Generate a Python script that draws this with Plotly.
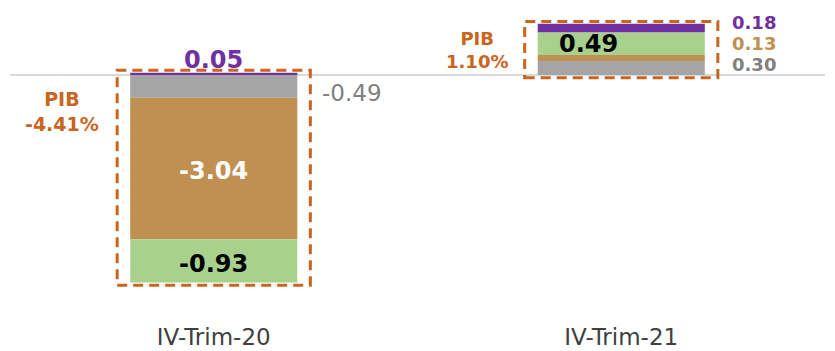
import plotly.graph_objects as go

categories = ["IV-Trim-20", "IV-Trim-21"]
gray_vals = [-0.49, 0.30]
brown_vals = [-3.04, 0.13]
green_vals = [-0.93, 0.49]
purple_vals = [0.05, 0.18]
pib_vals = [-4.41, 1.10]

C_GRAY = "#A5A5A5"
C_BROWN = "#BF9052"
C_GREEN = "#A9D18E"
C_PURPLE = "#7030A0"
C_ORANGE = "#C9651E"
FONT = "DejaVu Sans"

BAR_W = 0.41
fig = go.Figure()
for name, vals, col in [("gray", gray_vals, C_GRAY), ("brown", brown_vals, C_BROWN),
                        ("green", green_vals, C_GREEN), ("purple", purple_vals, C_PURPLE)]:
    fig.add_trace(go.Bar(x=categories, y=vals, name=name, marker=dict(color=col, line=dict(width=0)),
                         width=BAR_W, hoverinfo="skip"))

ann = []
def A(x, y, text, color, size, bold=False, **kw):
    t = f"<b>{text}</b>" if bold else text
    d = dict(x=x, y=y, xref="x", yref="y", text=t, showarrow=False,
             font=dict(family=FONT, size=size, color=color))
    d.update(kw)
    ann.append(d)

def fmt(v):
    return f"{v:.2f}"

# Category 0 (negative stacks)
c0 = categories[0]
g0, b0, gr0, p0 = gray_vals[0], brown_vals[0], green_vals[0], purple_vals[0]
A(c0, p0, fmt(p0), C_PURPLE, 24, bold=True, yanchor="bottom", yshift=-3)
A(c0, g0 / 2, fmt(g0), "#808080", 23, xanchor="left", xshift=106, yshift=-7)
A(c0, g0 + b0 / 2, fmt(b0), "white", 24, bold=True, yshift=-3)
A(c0, g0 + b0 + gr0 / 2, fmt(gr0), "black", 24, bold=True, yshift=-3)
A(c0, 0, f"PIB<br>{pib_vals[0]:.2f}%", C_ORANGE, 19, bold=True, xshift=-152, yshift=-36)

# Category 1 (positive stacks)
c1 = categories[1]
g1, b1, gr1, p1 = gray_vals[1], brown_vals[1], green_vals[1], purple_vals[1]
A(c1, g1 + b1 + gr1 / 2, fmt(gr1), "black", 24, bold=True, xshift=-33)
top1 = g1 + b1 + gr1 + p1
A(c1, top1, fmt(p1), C_PURPLE, 18, bold=True, xanchor="left", xshift=110, yshift=1, borderpad=0)
A(c1, top1, fmt(b1), C_BROWN, 18, bold=True, xanchor="left", xshift=110, yshift=-20, borderpad=0)
A(c1, top1, fmt(g1), "#808080", 18, bold=True, xanchor="left", xshift=110, yshift=-41, borderpad=0)
A(c1, pib_vals[1] / 2, f"PIB<br>{pib_vals[1]:.2f}%", C_ORANGE, 18, bold=True, xshift=-144, yshift=-1)

# dashed frames around each bar, from data extents
shapes = []
for i in range(len(categories)):
    neg = sum(v for v in (gray_vals[i], brown_vals[i], green_vals[i], purple_vals[i]) if v < 0)
    pos = sum(v for v in (gray_vals[i], brown_vals[i], green_vals[i], purple_vals[i]) if v > 0)
    shapes.append(dict(type="rect", xref="x", yref="y",
                       x0=i - BAR_W / 2 - 0.032, x1=i + BAR_W / 2 + 0.032,
                       y0=neg - 0.06, y1=pos + 0.05,
                       line=dict(color=C_ORANGE, width=3, dash="10px,6px"),
                       fillcolor="rgba(0,0,0,0)"))

PX = 46.5
top_px, plot_h = 70, 315
fig.update_layout(
    width=835, height=351, autosize=False,
    margin=dict(l=10, r=10, t=5, b=31),
    barmode="relative", bargap=0.59,
    plot_bgcolor="white", paper_bgcolor="white",
    showlegend=False,
    annotations=ann, shapes=shapes,
    xaxis=dict(type="category", range=[-0.5, 1.5], showgrid=False, showline=False,
               ticks="", tickfont=dict(family=FONT, size=23, color="#404040"),
               ticklabelstandoff=1, automargin=False, fixedrange=True),
    yaxis=dict(range=[-(plot_h - top_px) / PX, top_px / PX], showgrid=False,
               showticklabels=False, zeroline=True, zerolinecolor="#D9D9D9",
               zerolinewidth=1.5, showline=False, automargin=False, fixedrange=True),
)
fig.write_html("out.html", config={"displayModeBar": False},
               post_script="document.body.style.margin='0';document.body.style.overflow='hidden';")
